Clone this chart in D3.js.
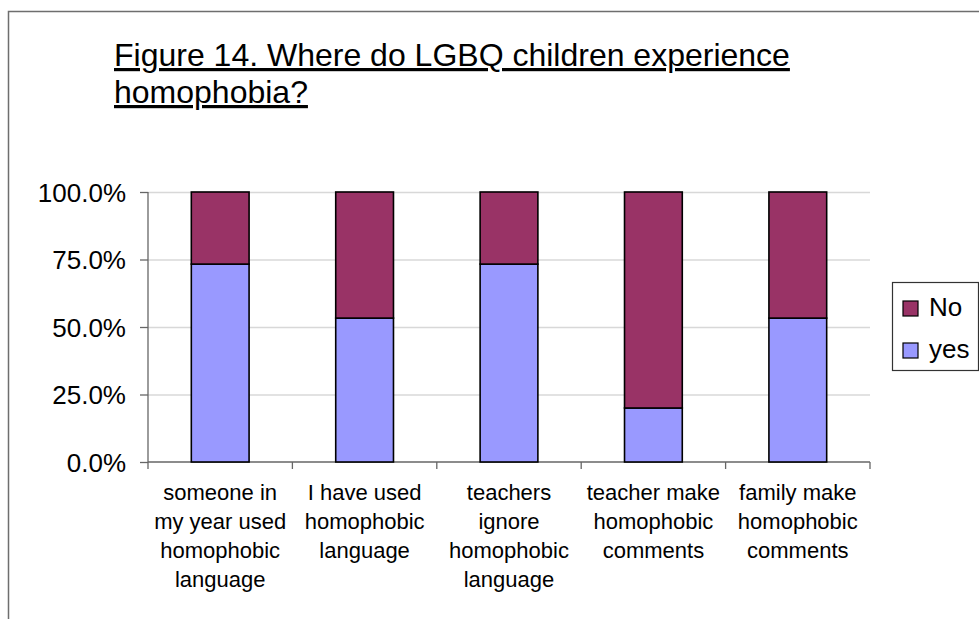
<!DOCTYPE html>
<html>
<head>
<meta charset="utf-8">
<script src="https://cdn.jsdelivr.net/npm/d3@7"></script>
<style>
  html, body { margin: 0; padding: 0; background: #fff; overflow: hidden; }
  svg { display: block; font-family: Arial, "Liberation Sans", sans-serif; }
</style>
</head>
<body>
<svg id="chart" width="979" height="619"></svg>
<script>
(function () {
    'use strict';

    // ── Data ──────────────────────────────────────────────
    const categories = [
        ['someone in', 'my year used', 'homophobic', 'language'],
        ['I have used', 'homophobic', 'language'],
        ['teachers', 'ignore', 'homophobic', 'language'],
        ['teacher make', 'homophobic', 'comments'],
        ['family make', 'homophobic', 'comments']
    ];
    const yesValues = [73.3, 53.3, 73.3, 20.0, 53.3];
    const noValues  = [26.7, 46.7, 26.7, 80.0, 46.7];
    const yTicks    = [0, 25, 50, 75, 100];
    const seriesNames = ['No', 'yes'];

    const COLORS = { yes: '#9999FF', No: '#993366' };

    // plot area
    const X0 = 148, X1 = 870;
    const Y0 = 462, Y1 = 192;

    const svg = d3.select('#chart');

    // outer chart border (runs off the page on right/bottom)
    svg.append('rect')
        .attr('x', 8.5).attr('y', 11.5)
        .attr('width', 1100).attr('height', 800)
        .attr('fill', 'none')
        .attr('stroke', '#6e6e6e')
        .attr('stroke-width', 1.5);

    // ── Title ────────────────────────────────────────────
    const title = svg.append('text')
        .attr('x', 114)
        .attr('font-size', '32px')
        .attr('fill', '#000')
        .attr('text-decoration', 'underline');
    title.append('tspan').attr('x', 114).attr('y', 66).text('Figure 14. Where do LGBQ children experience');
    title.append('tspan').attr('x', 114).attr('y', 103).text('homophobia?');

    // ── Scales ───────────────────────────────────────────
    const x = d3.scaleBand()
        .domain(d3.range(categories.length))
        .range([X0, X1])
        .paddingInner(0.6)
        .paddingOuter(0.3);

    const y = d3.scaleLinear().domain([0, 100]).range([Y0, Y1]);

    // gridlines
    svg.append('g')
        .selectAll('line')
        .data(yTicks.filter(t => t > 0))
        .join('line')
        .attr('x1', X0).attr('x2', X1)
        .attr('y1', d => y(d) + 0.5).attr('y2', d => y(d) + 0.5)
        .attr('stroke', '#d8d8d8')
        .attr('stroke-width', 1.5);

    // y axis
    const yAxis = svg.append('g')
        .attr('transform', `translate(${X0},0)`)
        .call(d3.axisLeft(y).tickValues(yTicks).tickSize(8).tickPadding(14)
            .tickFormat(d => d.toFixed(1) + '%'));
    yAxis.select('.domain').remove();
    yAxis.selectAll('.tick line').attr('stroke', '#666').attr('stroke-width', 1.3);
    yAxis.selectAll('.tick text')
        .attr('font-size', '26px')
        .attr('font-family', 'Arial, "Liberation Sans", sans-serif')
        .attr('fill', '#000')
        .attr('dy', '0.36em');
    svg.append('line')
        .attr('x1', X0).attr('x2', X0)
        .attr('y1', Y1).attr('y2', Y0 + 7)
        .attr('stroke', '#666').attr('stroke-width', 1.3);

    // x axis line and boundary ticks
    svg.append('line')
        .attr('x1', X0).attr('x2', X1)
        .attr('y1', Y0).attr('y2', Y0)
        .attr('stroke', '#666').attr('stroke-width', 1.3);
    svg.append('g')
        .selectAll('line')
        .data(d3.range(1, categories.length + 1))
        .join('line')
        .attr('x1', i => X0 + i * (X1 - X0) / categories.length)
        .attr('x2', i => X0 + i * (X1 - X0) / categories.length)
        .attr('y1', Y0).attr('y2', Y0 + 7)
        .attr('stroke', '#666').attr('stroke-width', 1.3);

    // ── Bars ─────────────────────────────────────────────
    const bars = svg.append('g');
    bars.selectAll('.yes')
        .data(yesValues)
        .join('rect')
        .attr('class', 'yes')
        .attr('x', (d, i) => x(i))
        .attr('width', x.bandwidth())
        .attr('y', d => y(d))
        .attr('height', d => Y0 - y(d))
        .attr('fill', COLORS.yes)
        .attr('stroke', '#000')
        .attr('stroke-width', 1.6);
    bars.selectAll('.no')
        .data(noValues)
        .join('rect')
        .attr('class', 'no')
        .attr('x', (d, i) => x(i))
        .attr('width', x.bandwidth())
        .attr('y', (d, i) => y(yesValues[i] + d))
        .attr('height', (d, i) => y(yesValues[i]) - y(yesValues[i] + d))
        .attr('fill', COLORS.No)
        .attr('stroke', '#000')
        .attr('stroke-width', 1.6);

    // ── Category labels ──────────────────────────────────
    const catG = svg.append('g');
    categories.forEach((lines, i) => {
        const t = catG.append('text')
            .attr('text-anchor', 'middle')
            .attr('font-size', '22px')
            .attr('fill', '#000');
        lines.forEach((ln, j) => {
            t.append('tspan')
                .attr('x', x(i) + x.bandwidth() / 2)
                .attr('y', 500 + j * 29)
                .text(ln);
        });
    });

    // ── Legend ───────────────────────────────────────────
    const legend = svg.append('g');
    legend.append('rect')
        .attr('x', 892.5).attr('y', 282.5)
        .attr('width', 86).attr('height', 88)
        .attr('fill', '#fff')
        .attr('stroke', '#333')
        .attr('stroke-width', 1.2);
    seriesNames.forEach((name, i) => {
        legend.append('rect')
            .attr('x', 903).attr('y', 301 + i * 42)
            .attr('width', 15).attr('height', 15)
            .attr('fill', COLORS[name])
            .attr('stroke', '#000')
            .attr('stroke-width', 1.2);
        legend.append('text')
            .attr('x', 929).attr('y', 316 + i * 42)
            .attr('font-size', '26px')
            .attr('fill', '#000')
            .text(name);
    });
})();
</script>
</body>
</html>
